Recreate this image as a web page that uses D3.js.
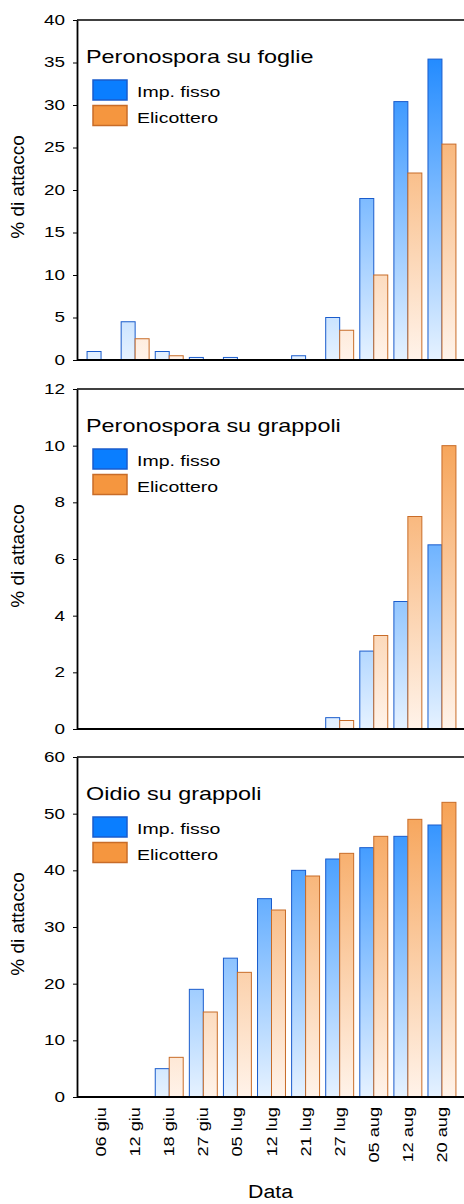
<!DOCTYPE html>
<html>
<head>
<meta charset="utf-8">
<script src="https://cdn.jsdelivr.net/npm/d3@7"></script>
<style>
  body { margin: 0; background: #fff; }
  svg { display: block; font-family: "Liberation Sans", Arial, sans-serif; }
</style>
</head>
<body>
<div id="chart"></div>
<script>
// Data
const dates = ["06 giu", "12 giu", "18 giu", "27 giu", "05 lug", "12 lug", "21 lug", "27 lug", "05 aug", "12 aug", "20 aug"]
const series = ["Imp. fisso", "Elicottero"]

const foglieImp = [1, 4.5, 1, 0.3, 0.3, 0, 0.5, 5, 19, 30.4, 35.4]
const foglieEli = [0, 2.5, 0.5, 0, 0, 0, 0, 3.5, 10, 22, 25.4]

const grappoliImp = [0, 0, 0, 0, 0, 0, 0, 0.4, 2.75, 4.5, 6.5]
const grappoliEli = [0, 0, 0, 0, 0, 0, 0, 0.3, 3.3, 7.5, 10]

const oidioImp = [0, 0, 5, 19, 24.5, 35, 40, 42, 44, 46, 48]
const oidioEli = [0, 0, 7, 15, 22, 33, 39, 43, 46, 49, 52]

const titles = ["Peronospora su foglie", "Peronospora su grappoli", "Oidio su grappoli"]
const yTicks = [
    [0, 5, 10, 15, 20, 25, 30, 35, 40],
    [0, 2, 4, 6, 8, 10, 12],
    [0, 10, 20, 30, 40, 50, 60]
]
const yLabel = "% di attacco"
const xLabel = "Data"

const panels = [
    {title: titles[0], values: [foglieImp, foglieEli], ticks: yTicks[0]},
    {title: titles[1], values: [grappoliImp, grappoliEli], ticks: yTicks[1]},
    {title: titles[2], values: [oidioImp, oidioEli], ticks: yTicks[2]}
]

// Layout
const width = 464, height = 1204
const left = 77, right = 464
const tops = [20, 389, 757]
const plotH = 340
const sx = 1.35   // glyphs in the picture are wider than the font

const colors = {
    fill: ["#0a7eff", "#f5963f"],
    light: ["#e6f2ff", "#fff3ea"],
    stroke: ["#1a5ccc", "#c86c28"]
}

const svg = d3.select("#chart").append("svg")
    .attr("width", width)
    .attr("height", height)

const defs = svg.append("defs")

const x = d3.scaleBand().domain(dates).range([84, 459]).paddingInner(0.18).paddingOuter(0.09)
const xs = d3.scaleBand().domain(series).range([0, x.bandwidth()])

function stretched(sel, k){
    // widen text along its own direction
    sel.attr("transform", function(){
        let t = d3.select(this).attr("data-t") || ""
        return t + " scale(" + k + ",1)"
    })
}

panels.forEach((p, pi) => {
    let top = tops[pi]
    let bottom = top + plotH
    let y = d3.scaleLinear().domain([0, d3.max(p.ticks)]).range([bottom, top])

    // gradients spanning the plot height
    series.forEach((s, si) => {
        let g = defs.append("linearGradient")
            .attr("id", "grad" + pi + "_" + si)
            .attr("gradientUnits", "userSpaceOnUse")
            .attr("x1", 0).attr("x2", 0)
            .attr("y1", bottom).attr("y2", top)
        g.append("stop").attr("offset", "0%").attr("stop-color", colors.light[si])
        g.append("stop").attr("offset", "100%").attr("stop-color", colors.fill[si])
    })

    let panel = svg.append("g").attr("class", "panel")

    // bars
    series.forEach((s, si) => {
        let rows = p.values[si]
            .map((v, i) => ({date: dates[i], v: v}))
            .filter(r => r.v > 0)
        panel.append("g").selectAll("rect")
            .data(rows)
            .join("rect")
            .attr("x", r => x(r.date) + xs(s))
            .attr("y", r => y(r.v))
            .attr("width", xs.bandwidth())
            .attr("height", r => y(0) - y(r.v))
            .attr("fill", "url(#grad" + pi + "_" + si + ")")
            .attr("stroke", colors.stroke[si])
            .attr("stroke-width", 1)
    })

    // frame: top line
    panel.append("line")
        .attr("x1", left).attr("x2", right)
        .attr("y1", top).attr("y2", top)
        .attr("stroke", "#000").attr("stroke-width", 1.5)

    // y axis
    let ya = panel.append("g")
        .attr("transform", "translate(" + left + ",0)")
        .call(d3.axisLeft(y).tickValues(p.ticks).tickSize(4).tickSizeOuter(0).tickFormat(d3.format("d")))
    ya.select(".domain").attr("stroke-width", 1.8)
    ya.selectAll(".tick line").attr("stroke-width", 1)
    ya.selectAll(".tick text")
        .attr("font-size", 14)
        .attr("fill", "#000")
        .attr("font-family", "Liberation Sans, Arial, sans-serif")
        .attr("x", -12 / sx)
        .call(stretched, sx)

    // x axis line
    let xa = panel.append("g")
        .attr("transform", "translate(0," + bottom + ")")
    xa.append("line")
        .attr("x1", left).attr("x2", right)
        .attr("stroke", "#000").attr("stroke-width", 1.8)

    if(pi == panels.length - 1){
        xa.selectAll("text")
            .data(dates)
            .join("text")
            .attr("data-t", d => "translate(" + (x(d) + x.bandwidth() / 2) + ",10) rotate(-90)")
            .attr("text-anchor", "end")
            .attr("dy", "0.36em")
            .attr("font-size", 14)
            .text(d => d)
            .call(stretched, 1.3)

        svg.append("text")
            .attr("data-t", "translate(" + ((left + right) / 2) + ",1198)")
            .attr("text-anchor", "middle")
            .attr("font-size", 19)
            .text(xLabel)
            .call(stretched, 1.12)
    }

    // y label
    panel.append("text")
        .attr("data-t", "translate(24," + (top + plotH / 2 - 3) + ") rotate(-90)")
        .attr("text-anchor", "middle")
        .attr("font-size", 19)
        .text(yLabel)
        .call(stretched, 1)

    // title
    panel.append("text")
        .attr("data-t", "translate(86," + (top + 43) + ")")
        .attr("font-size", 18)
        .text(p.title)
        .call(stretched, 1.3)

    // legend
    let leg = panel.append("g").attr("transform", "translate(93," + (top + 60) + ")")
    series.forEach((s, si) => {
        let row = leg.append("g").attr("transform", "translate(0," + (si * 25.5) + ")")
        row.append("rect")
            .attr("width", 34).attr("height", 20)
            .attr("fill", colors.fill[si])
            .attr("stroke", colors.stroke[si])
            .attr("stroke-width", 1.5)
        row.append("text")
            .attr("data-t", "translate(44,17)")
            .attr("font-size", 15)
            .text(s)
            .call(stretched, 1.3)
    })
})
</script>
</body>
</html>
